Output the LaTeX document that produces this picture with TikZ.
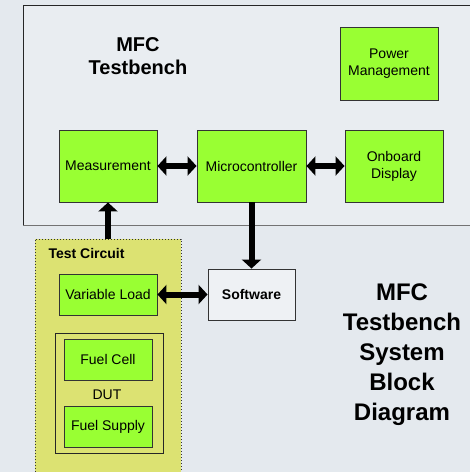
\documentclass[tikz,border=0pt]{standalone}
\usepackage{fontspec}
\setmainfont{Liberation Sans}
\usetikzlibrary{arrows.meta,shadows}
\definecolor{bg}{HTML}{E4E9EE}
\definecolor{panel}{HTML}{E9EDF1}
\definecolor{lime}{HTML}{99FF33}
\definecolor{tcfill}{HTML}{DCE272}
\definecolor{swfill}{HTML}{EEF1F4}
\tikzset{
  blk/.style={draw=black!80, line width=0.9pt, fill=lime, rectangle, align=center,
    inner sep=0pt, font=\fontsize{14}{17}\selectfont,
    drop shadow={shadow xshift=1pt, shadow yshift=-1pt, fill=black!45, opacity=0.6}},
  dbl/.style={line width=6pt, {Triangle[width=19pt,length=9pt]}-{Triangle[width=19pt,length=9pt]}},
  sgl/.style={line width=6pt, -{Triangle[width=19pt,length=9pt]}},
  title/.style={font=\bfseries\fontsize{20}{23}\selectfont, align=center},
}
\begin{document}
\begin{tikzpicture}[x=1pt,y=-1pt]
\fill[bg] (0,0) rectangle (470,472);
\useasboundingbox (0,0) rectangle (470,472);
\clip (0,0) rectangle (470,472);
% outer panel
\node[draw=black!85, line width=0.9pt, fill=panel, rectangle, inner sep=0pt,
  minimum width=460pt, minimum height=220pt] (outer) at (253,115) {};
\draw[black!55, line width=1.6pt] (23,225.5) -- (480,225.5);
\node[title] (ttl) at (138,56) {MFC\\Testbench};
% test circuit
\node[draw=black!80, dotted, line width=1pt, fill=tcfill, rectangle, inner sep=0pt,
  minimum width=146pt, minimum height=250pt] (tc) at (108,364) {};
\node[anchor=west, font=\bfseries\fontsize{14}{17}\selectfont] (tclbl) at (45,253) {Test Circuit};
\node[draw=black!85, line width=0.9pt, rectangle, inner sep=0pt,
  minimum width=108pt, minimum height=120pt] (dut) at (109,393) {};
\node[font=\fontsize{14}{17}\selectfont] (dutlbl) at (107,395) {DUT};
% blocks
\node[blk, minimum width=98pt, minimum height=73pt] (power) at (389,63.5) {Power\\Management};
\node[blk, minimum width=98pt, minimum height=72pt] (meas) at (108,166) {Measurement};
\node[blk, minimum width=109pt, minimum height=72pt] (micro) at (251.5,166) {Microcontroller};
\node[blk, minimum width=98pt, minimum height=72pt] (disp) at (394,166) {Onboard\\Display};
\node[blk, minimum width=98pt, minimum height=41pt] (vl) at (108,294.5) {Variable Load};
\node[blk, minimum width=88pt, minimum height=41pt] (fc) at (108,359.5) {Fuel Cell};
\node[blk, minimum width=88pt, minimum height=41pt] (fs) at (108,426.5) {Fuel Supply};
\node[draw=black!80, line width=0.9pt, fill=swfill, rectangle, inner sep=0pt,
  font=\bfseries\fontsize{14}{17}\selectfont,
  minimum width=87pt, minimum height=51pt] (sw) at (251.5,294.5) {Software};
% big title
\node[font=\bfseries\fontsize{24}{30}\selectfont, align=center] (big) at (402,355) {MFC\\Testbench\\System\\Block\\Diagram};
% connectors
\draw[dbl] (meas) -- (micro);
\draw[dbl] (micro) -- (disp);
\draw[dbl] (vl) -- (sw);
\draw[sgl] (tc.north) -- (meas.south);
\draw[sgl] (micro.south) -- (sw.north);
\end{tikzpicture}
\end{document}
